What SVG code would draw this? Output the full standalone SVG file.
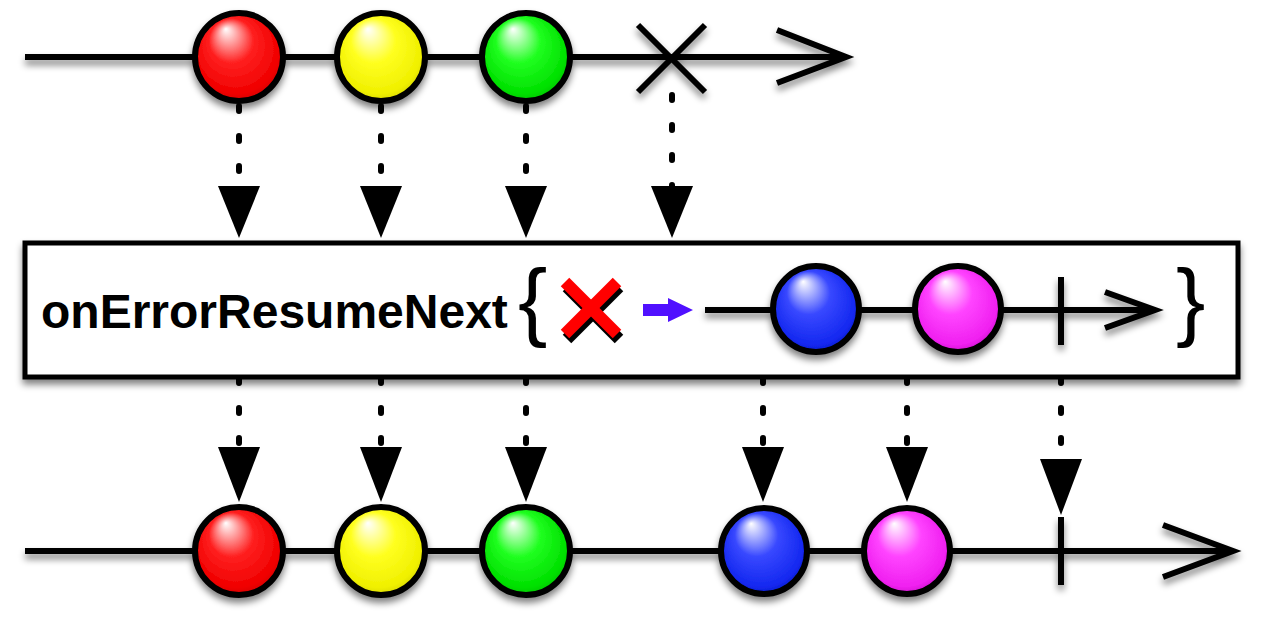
<svg xmlns="http://www.w3.org/2000/svg" width="1280" height="620" viewBox="0 0 1280 620">
<defs>
  <filter id="sh" x="-20%" y="-20%" width="140%" height="160%">
    <feGaussianBlur in="SourceAlpha" stdDeviation="3.5"/>
    <feOffset dx="0" dy="5" result="b"/>
    <feComponentTransfer><feFuncA type="linear" slope="0.5"/></feComponentTransfer>
    <feMerge><feMergeNode/><feMergeNode in="SourceGraphic"/></feMerge>
  </filter>
  <radialGradient id="gRed" cx="0.5" cy="0.5" r="0.6" fx="0.35" fy="0.18">
    <stop offset="0" stop-color="#ffffff"/><stop offset="0.42" stop-color="#ff2020"/><stop offset="0.8" stop-color="#f00000"/><stop offset="1" stop-color="#b80000"/>
  </radialGradient>
  <radialGradient id="gYel" cx="0.5" cy="0.5" r="0.6" fx="0.35" fy="0.18">
    <stop offset="0" stop-color="#ffffff"/><stop offset="0.42" stop-color="#ffff20"/><stop offset="0.8" stop-color="#f0f000"/><stop offset="1" stop-color="#c0c000"/>
  </radialGradient>
  <radialGradient id="gGrn" cx="0.5" cy="0.5" r="0.6" fx="0.35" fy="0.18">
    <stop offset="0" stop-color="#ffffff"/><stop offset="0.42" stop-color="#20ff20"/><stop offset="0.8" stop-color="#00e000"/><stop offset="1" stop-color="#00a800"/>
  </radialGradient>
  <radialGradient id="gBlu" cx="0.5" cy="0.5" r="0.6" fx="0.35" fy="0.18">
    <stop offset="0" stop-color="#ffffff"/><stop offset="0.42" stop-color="#3848ff"/><stop offset="0.8" stop-color="#1428f0"/><stop offset="1" stop-color="#0010a8"/>
  </radialGradient>
  <radialGradient id="gMag" cx="0.5" cy="0.5" r="0.6" fx="0.35" fy="0.18">
    <stop offset="0" stop-color="#ffffff"/><stop offset="0.42" stop-color="#ff44ff"/><stop offset="0.8" stop-color="#f020f0"/><stop offset="1" stop-color="#a800a8"/>
  </radialGradient>
  <style>
    .ln{stroke:#000;stroke-width:6;fill:none;stroke-linecap:butt}
    .arm{stroke:#000;stroke-width:6;fill:none;stroke-linecap:butt;stroke-linejoin:miter}
    .m{stroke:#000;stroke-width:6}
    .dash{stroke:#000;stroke-width:6;stroke-linecap:round;stroke-dasharray:5 25;fill:none}
    .tri{fill:#000}
    .lbl{font-family:"Liberation Sans",Arial,Helvetica,sans-serif;font-weight:bold;font-size:48px;fill:#000}
    .brace{font-family:"Liberation Sans",Arial,Helvetica,sans-serif;font-size:88px;fill:#000}
  </style>
</defs>
<rect width="1280" height="620" fill="#fff"/>

<g id="connectors">
  <line class="dash" x1="239" y1="106" x2="239" y2="186"/>
  <polygon class="tri" points="218,186 260,186 239,238"/>
  <line class="dash" x1="381" y1="106" x2="381" y2="186"/>
  <polygon class="tri" points="360,186 402,186 381,238"/>
  <line class="dash" x1="526" y1="106" x2="526" y2="186"/>
  <polygon class="tri" points="505,186 547,186 526,238"/>
  <line class="dash" x1="672" y1="95" x2="672" y2="186"/>
  <polygon class="tri" points="651,186 693,186 672,238"/>

  <line class="dash" x1="239" y1="378" x2="239" y2="447"/>
  <polygon class="tri" points="218,447 260,447 239,502"/>
  <line class="dash" x1="381" y1="378" x2="381" y2="447"/>
  <polygon class="tri" points="360,447 402,447 381,502"/>
  <line class="dash" x1="526" y1="378" x2="526" y2="447"/>
  <polygon class="tri" points="505,447 547,447 526,502"/>
  <line class="dash" x1="763" y1="378" x2="763" y2="447"/>
  <polygon class="tri" points="742,447 784,447 763,502"/>
  <line class="dash" x1="907" y1="378" x2="907" y2="447"/>
  <polygon class="tri" points="886,447 928,447 907,502"/>
  <line class="dash" x1="1061" y1="378" x2="1061" y2="459"/>
  <polygon class="tri" points="1040,459 1082,459 1061,515"/>
</g>

<g id="source" filter="url(#sh)">
  <line class="ln" x1="25" y1="57" x2="846" y2="57"/>
  <polyline class="arm" points="777,30 846,57 777,83"/>
  <g id="src-red"><circle class="m" cx="239" cy="57" r="44" fill="url(#gRed)"/></g>
  <g id="src-yellow"><circle class="m" cx="381" cy="57" r="44" fill="url(#gYel)"/></g>
  <g id="src-green"><circle class="m" cx="526" cy="57" r="44" fill="url(#gGrn)"/></g>
  <g id="src-error">
    <line class="ln" x1="638" y1="25" x2="705" y2="92" stroke-linecap="round"/>
    <line class="ln" x1="705" y1="25" x2="638" y2="92" stroke-linecap="round"/>
  </g>
</g>

<g id="operator">
  <rect x="25" y="243" width="1213" height="134" fill="#fff" stroke="#000" stroke-width="5" filter="url(#sh)"/>
  <text class="lbl" x="41" y="328">onErrorResumeNext</text>
  <text class="brace" x="518" y="330">{</text>
  <text class="brace" x="1176" y="330">}</text>
  <g id="red-x">
    <g transform="translate(2,5)" stroke="#000" stroke-width="12">
      <line x1="565" y1="282" x2="617" y2="334"/>
      <line x1="617" y1="282" x2="565" y2="334"/>
    </g>
    <g stroke="#ff0000" stroke-width="12">
      <line x1="565" y1="282" x2="617" y2="334"/>
      <line x1="617" y1="282" x2="565" y2="334"/>
    </g>
  </g>
  <polygon id="blue-arrow" points="643,304 668,304 668,298 693,310 668,322 668,316 643,316" fill="#5010ff"/>
  <g id="inner" filter="url(#sh)">
    <line class="ln" x1="705" y1="310" x2="1155" y2="310" stroke-width="5"/>
    <polyline class="arm" points="1105,292 1155,310 1105,328" stroke-width="5"/>
    <line class="ln" x1="1061" y1="277" x2="1061" y2="345" stroke-width="5"/>
    <g id="in-blue"><circle class="m" cx="816" cy="309" r="43" fill="url(#gBlu)"/></g>
    <g id="in-magenta"><circle class="m" cx="958" cy="309" r="43" fill="url(#gMag)"/></g>
  </g>
</g>

<g id="result" filter="url(#sh)">
  <line class="ln" x1="25" y1="551" x2="1233" y2="551"/>
  <polyline class="arm" points="1163,525 1233,551 1163,577"/>
  <line class="ln" x1="1061" y1="517" x2="1061" y2="585"/>
  <g id="out-red"><circle class="m" cx="239" cy="551" r="44" fill="url(#gRed)"/></g>
  <g id="out-yellow"><circle class="m" cx="381" cy="551" r="44" fill="url(#gYel)"/></g>
  <g id="out-green"><circle class="m" cx="526" cy="551" r="44" fill="url(#gGrn)"/></g>
  <g id="out-blue"><circle class="m" cx="764" cy="551" r="43" fill="url(#gBlu)"/></g>
  <g id="out-magenta"><circle class="m" cx="907" cy="551" r="43" fill="url(#gMag)"/></g>
</g>
</svg>
